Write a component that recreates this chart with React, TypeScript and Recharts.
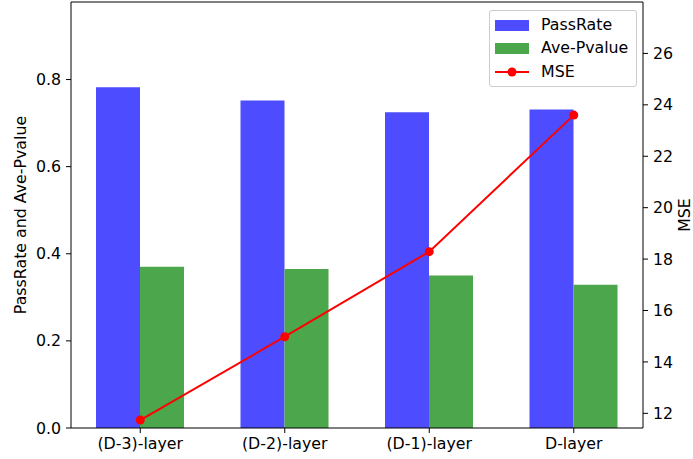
import React from "react";
import {
  Bar,
  ComposedChart,
  Line,
  ReferenceLine,
  XAxis,
  YAxis,
} from "recharts";

const layers = ["(D-3)-layer", "(D-2)-layer", "(D-1)-layer", "D-layer"];
const passRate = [0.782, 0.752, 0.725, 0.731];
const avePvalue = [0.37, 0.365, 0.35, 0.329];
const mse = [11.74, 14.98, 18.29, 23.6];
const leftTicks = [0, 0.2, 0.4, 0.6, 0.8];
const rightTicks = [12, 14, 16, 18, 20, 22, 24, 26];

const BLUE = "#4d4dff";
const GREEN = "#4ca64c";
const RED = "#ff0000";
const FONT = "DejaVu Sans, sans-serif";
const FS = 15.8;

const data = layers.map((layer, i) => ({
  layer,
  PassRate: passRate[i],
  "Ave-Pvalue": avePvalue[i],
  MSE: mse[i],
}));

const tickStyle = { fontSize: FS, fill: "#000", fontFamily: FONT };

const LeftLabel = (props: any) => {
  const { viewBox } = props;
  const cy = viewBox.y + viewBox.height / 2;
  return (
    <text
      x={20}
      y={cy}
      transform={`rotate(-90, 20, ${cy})`}
      textAnchor="middle"
      dominantBaseline="central"
      fontSize={FS}
      fontFamily={FONT}
      fill="#000"
    >
      PassRate and Ave-Pvalue
    </text>
  );
};

const RightLabel = (props: any) => {
  const { viewBox } = props;
  const cy = viewBox.y + viewBox.height / 2;
  return (
    <text
      x={684}
      y={cy}
      transform={`rotate(-90, 684, ${cy})`}
      textAnchor="middle"
      dominantBaseline="central"
      fontSize={FS}
      fontFamily={FONT}
      fill="#000"
    >
      MSE
    </text>
  );
};

// matplotlib-style legend box, drawn over the top right corner
const LegendBox = () => {
  const row = (swatch: React.ReactNode, text: string) => (
    <div style={{ display: "flex", alignItems: "center", height: 23.5 }}>
      <svg width={34} height={12} style={{ marginRight: 12 }}>
        {swatch}
      </svg>
      <span>{text}</span>
    </div>
  );
  return (
    <div
      style={{
        position: "absolute",
        left: 489,
        top: 10,
        border: "1px solid #cccccc",
        borderRadius: 3,
        background: "rgba(255,255,255,0.8)",
        padding: "2px 6px 2px 5px",
        fontFamily: FONT,
        fontSize: FS,
        color: "#000",
        width: 135,
        lineHeight: "18px",
      }}
    >
      {row(<rect x={0} y={1} width={34} height={11} fill={BLUE} />, "PassRate")}
      {row(<rect x={0} y={1} width={34} height={11} fill={GREEN} />, "Ave-Pvalue")}
      {row(
        <g>
          <line x1={0} x2={34} y1={6} y2={6} stroke={RED} strokeWidth={2} />
          <circle cx={17} cy={6} r={4.5} fill={RED} />
        </g>,
        "MSE"
      )}
    </div>
  );
};

export default function App() {
  return (
    <div style={{ position: "absolute", left: 0, top: 0, width: 693, height: 459 }}>
      <ComposedChart
        width={693}
        height={459}
        data={data}
        margin={{ top: 2, right: 0, bottom: 0, left: 0 }}
        barGap={0}
        barCategoryGap={0}
      >
        <XAxis
          dataKey="layer"
          height={31}
          padding={{ left: -3, right: -3 }}
          tick={tickStyle}
          tickSize={5}
          tickMargin={5}
          stroke="#000"
          tickLine={{ stroke: "#000" }}
          axisLine={{ stroke: "#000" }}
        />
        <YAxis
          yAxisId="left"
          width={71}
          domain={[0, 0.978]}
          ticks={leftTicks}
          tickFormatter={(v: number) => v.toFixed(1)}
          tick={tickStyle}
          tickSize={5}
          tickMargin={5}
          stroke="#000"
          allowDataOverflow
          label={<LeftLabel />}
        />
        <YAxis
          yAxisId="right"
          orientation="right"
          width={50}
          domain={[11.43, 28]}
          ticks={rightTicks}
          tick={tickStyle}
          tickSize={5}
          tickMargin={5}
          stroke="#000"
          allowDataOverflow
          label={<RightLabel />}
        />
        <ReferenceLine yAxisId="left" y={0.978} stroke="#000" ifOverflow="visible" />
        <Bar
          yAxisId="left"
          dataKey="PassRate"
          fill={BLUE}
          barSize={44}
          isAnimationActive={false}
        />
        <Bar
          yAxisId="left"
          dataKey="Ave-Pvalue"
          fill={GREEN}
          barSize={44}
          isAnimationActive={false}
        />
        <Line
          yAxisId="right"
          dataKey="MSE"
          stroke={RED}
          strokeWidth={2}
          dot={{ r: 4.5, fill: RED, stroke: RED, strokeWidth: 0 }}
          activeDot={false}
          isAnimationActive={false}
        />
      </ComposedChart>
      <LegendBox />
    </div>
  );
}
